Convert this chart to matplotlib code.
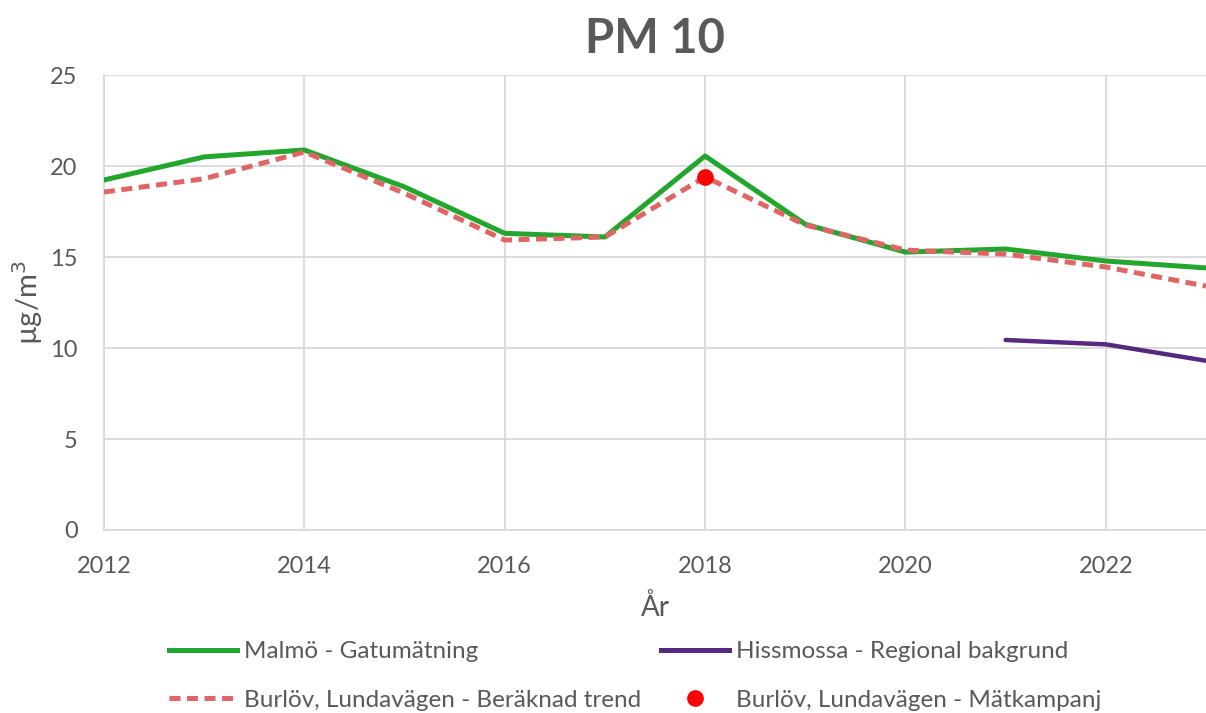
import matplotlib
matplotlib.use("Agg")
import matplotlib.pyplot as plt
from matplotlib.lines import Line2D

plt.rcParams['font.family'] = ['Lato', 'DejaVu Sans']

# data
years = list(range(2012, 2024))
malmo = [19.23, 20.5, 20.88, 18.85, 16.3, 16.1, 20.55, 16.8, 15.27, 15.44, 14.78, 14.4]
burlov_trend = [18.57, 19.3, 20.77, 18.5, 15.93, 16.1, 19.4, 16.76, 15.38, 15.16, 14.45, 13.4]
hiss_years = [2021, 2022, 2023]
hissmossa = [10.44, 10.2, 9.3]
camp_years = [2018]
campaign = [19.4]

yticks = [0, 5, 10, 15, 20, 25]
xticks = [2012, 2014, 2016, 2018, 2020, 2022]

green = '#22a62e'
purple = '#55297f'
salmon = '#e06666'
txt = '#595959'
grid = '#d9d9d9'

fig = plt.figure(figsize=(12.06, 7.13), dpi=100)
ax = fig.add_axes([104/1206, 1-530/713, 1-104/1206, (530-75)/713])

ax.plot(years, malmo, color=green, lw=3.6, solid_capstyle='round', zorder=3)
ax.plot(years, burlov_trend, color=salmon, lw=3.6, ls=(0, (2.2, 1.3)), zorder=4)
ax.plot(hiss_years, hissmossa, color=purple, lw=3.2, solid_capstyle='round', zorder=3)
ax.plot(camp_years, campaign, 'o', color='#ff0000', ms=11, zorder=5)

ax.set_xlim(2012, 2023)
ax.set_ylim(0, 25)
ax.set_xticks(xticks)
ax.set_yticks(yticks)
ax.grid(True, color=grid, lw=1.3)
ax.set_axisbelow(True)
for s in ['top', 'right']:
    ax.spines[s].set_visible(False)
for s in ['left', 'bottom']:
    ax.spines[s].set_color(grid)
    ax.spines[s].set_linewidth(1.3)
ax.tick_params(length=0, pad=19, labelsize=17, colors=txt)

ax.set_title('PM 10', fontsize=34, fontweight='bold', color=txt, pad=16)
ax.set_xlabel('År', fontsize=20, color=txt, labelpad=12)
ax.set_ylabel('µg/m$^3$', fontsize=21, color=txt, labelpad=4)

handles = [
    Line2D([], [], color=green, lw=3.6),
    Line2D([], [], color=salmon, lw=3.6, ls=(0, (2.2, 1.3))),
    Line2D([], [], color=purple, lw=3.6),
    Line2D([], [], color='#ff0000', marker='o', ls='none', ms=11),
]
labels = ['Malmö - Gatumätning', 'Burlöv, Lundavägen - Beräknad trend',
          'Hissmossa - Regional bakgrund', 'Burlöv, Lundavägen - Mätkampanj']
leg = fig.legend(handles, labels, ncol=2, loc='center left',
                 bbox_to_anchor=(147/1206, 1-676/713), frameon=False,
                 fontsize=17.5, handlelength=2.8, handletextpad=0.3,
                 columnspacing=0.8, labelspacing=1.15, labelcolor=txt)

fig.savefig('out.png', dpi=100)
